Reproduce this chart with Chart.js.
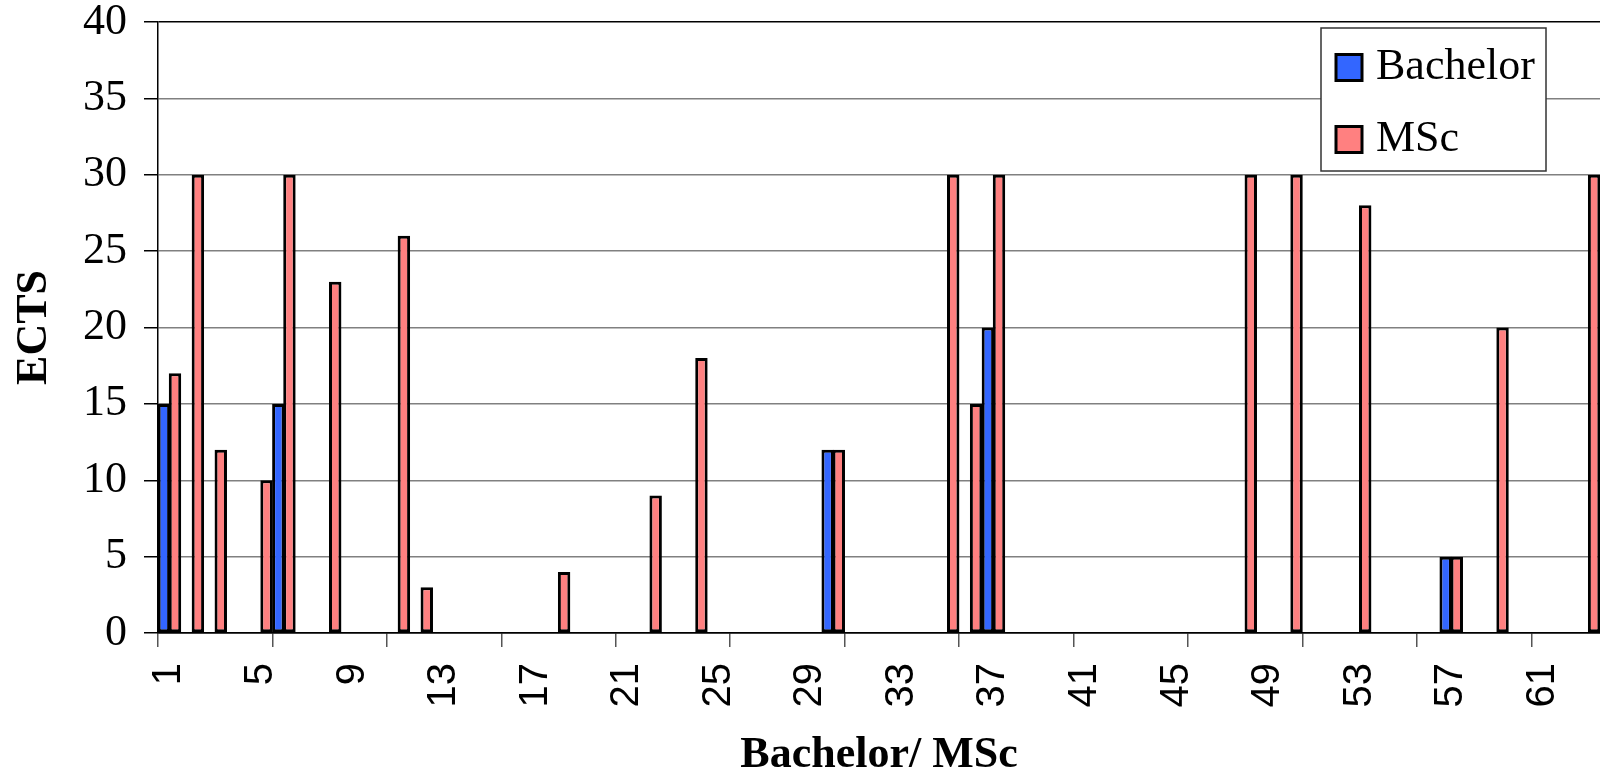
<!DOCTYPE html>
<html lang="en">
<head>
  <meta charset="UTF-8">
  <title>ECTS Bachelor / MSc</title>
  <script src="https://cdn.jsdelivr.net/npm/chart.js"></script>
  <style>
    html, body { margin: 0; padding: 0; background: #fff; }
    canvas { display: block; }
  </style>
</head>
<body>
  <canvas id="grafico" width="1600" height="773"></canvas>

  <script>
    // categories 1..63
    const categories = [
      1, 2, 3, 4, 5, 6, 7, 8, 9, 10,
      11, 12, 13, 14, 15, 16, 17, 18, 19, 20,
      21, 22, 23, 24, 25, 26, 27, 28, 29, 30,
      31, 32, 33, 34, 35, 36, 37, 38, 39, 40,
      41, 42, 43, 44, 45, 46, 47, 48, 49, 50,
      51, 52, 53, 54, 55, 56, 57, 58, 59, 60,
      61, 62, 63
    ];

    const bachelor = [
      15, 0, 0, 0, 0, 15, 0, 0, 0, 0,
      0, 0, 0, 0, 0, 0, 0, 0, 0, 0,
      0, 0, 0, 0, 0, 0, 0, 0, 0, 12,
      0, 0, 0, 0, 0, 0, 20, 0, 0, 0,
      0, 0, 0, 0, 0, 0, 0, 0, 0, 0,
      0, 0, 0, 0, 0, 0, 5, 0, 0, 0,
      0, 0, 0
    ];

    const msc = [
      17, 30, 12, 0, 10, 30, 0, 23, 0, 0,
      26, 3, 0, 0, 0, 0, 0, 4, 0, 0,
      0, 9, 0, 18, 0, 0, 0, 0, 0, 12,
      0, 0, 0, 0, 30, 15, 30, 0, 0, 0,
      0, 0, 0, 0, 0, 0, 0, 30, 0, 30,
      0, 0, 28, 0, 0, 0, 5, 0, 20, 0,
      0, 0, 30
    ];

    // x labels shown (every 4th category)
    const xTickLabels = [1, 5, 9, 13, 17, 21, 25, 29, 33, 37, 41, 45, 49, 53, 57, 61];
    const yTicks = [0, 5, 10, 15, 20, 25, 30, 35, 40];

    // legend box drawn inside the plot, top right
    const boxLegend = {
      id: 'boxLegend',
      afterDraw(chart) {
        const ctx = chart.ctx;
        const x = 1321, y = 28, w = 225, h = 143;
        ctx.save();
        ctx.fillStyle = '#fff';
        ctx.fillRect(x, y, w, h);
        ctx.strokeStyle = '#333';
        ctx.lineWidth = 1.5;
        ctx.strokeRect(x, y, w, h);
        ctx.font = '44px "Liberation Serif"';
        ctx.textBaseline = 'middle';
        chart.data.datasets.forEach((ds, i) => {
          const cy = 67.5 + i * 72;
          ctx.fillStyle = ds.backgroundColor;
          ctx.fillRect(1336, cy - 13, 26, 26);
          ctx.strokeStyle = '#000';
          ctx.lineWidth = 3;
          ctx.strokeRect(1336, cy - 13, 26, 26);
          ctx.fillStyle = '#000';
          ctx.fillText(ds.label, 1376, cy);
        });
        ctx.restore();
      }
    };

    const ctx = document.getElementById('grafico').getContext('2d');

    new Chart(ctx, {
      type: 'bar',
      data: {
        labels: categories,
        datasets: [
          {
            label: 'Bachelor',
            data: bachelor,
            backgroundColor: '#3366ff',
            borderColor: '#000',
            borderWidth: 3,
            borderSkipped: false,
            categoryPercentage: 0.97,
            barPercentage: 1.12
          },
          {
            label: 'MSc',
            data: msc,
            backgroundColor: '#ff8080',
            borderColor: '#000',
            borderWidth: 3,
            borderSkipped: false,
            categoryPercentage: 0.97,
            barPercentage: 1.12
          }
        ]
      },
      options: {
        responsive: false,
        animation: false,
        devicePixelRatio: 1,
        layout: { padding: { top: 22, right: 0, bottom: 0, left: 0 } },
        plugins: {
          legend: { display: false },
          tooltip: { enabled: false }
        },
        scales: {
          x: {
            offset: true,
            grid: {
              offset: true,
              drawOnChartArea: false,
              drawTicks: true,
              tickLength: 14,
              lineWidth: 1.5,
              color: c => (c.index % 5 === 0 ? '#555' : 'rgba(0,0,0,0)')
            },
            border: { color: '#000', width: 1.5 },
            ticks: {
              autoSkip: false,
              maxRotation: 90,
              minRotation: 90,
              padding: 16,
              color: '#000',
              font: { family: 'Liberation Sans', size: 40 },
              callback: (v, i) => (xTickLabels.includes(categories[i]) ? String(categories[i]) : '')
            },
            title: {
              display: true,
              text: 'Bachelor/ MSc',
              color: '#000',
              padding: 0,
              font: { family: 'Liberation Serif', size: 44, weight: 'bold', lineHeight: 0.8 }
            },
            afterFit: s => { s.height = 140; s.paddingLeft = 0; s.paddingRight = 0; }
          },
          y: {
            min: yTicks[0],
            max: yTicks[yTicks.length - 1],
            ticks: {
              stepSize: yTicks[1] - yTicks[0],
              padding: 17,
              color: '#000',
              font: { family: 'Liberation Serif', size: 44 }
            },
            grid: {
              lineWidth: 1.5,
              tickLength: 14,
              tickColor: '#000',
              color: c => (c.tick && (c.tick.value === 40 || c.tick.value === 0) ? '#000' : '#808080')
            },
            border: { color: '#000', width: 1.5 },
            title: {
              display: true,
              text: 'ECTS',
              color: '#000',
              padding: { top: 8, bottom: 0 },
              font: { family: 'Liberation Serif', size: 44, weight: 'bold' }
            },
            afterFit: s => { s.width = 158; s.paddingTop = 0; s.paddingBottom = 0; }
          }
        }
      },
      plugins: [boxLegend]
    });
  </script>
</body>
</html>
